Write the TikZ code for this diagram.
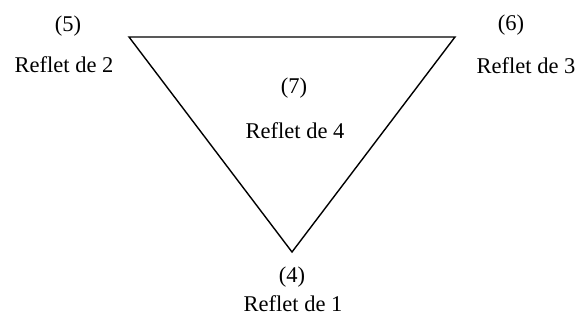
\documentclass[tikz,border=0pt]{standalone}
\usepackage{fontspec}
\setmainfont{Liberation Serif}
\begin{document}
\begin{tikzpicture}[x=1pt,y=-1pt,
  lbl/.style={inner sep=0pt,font=\fontsize{22.5}{27}\selectfont},
  edge/.style={line width=1.4pt,line join=miter}]
\useasboundingbox (0,0) rectangle (578,320);
\coordinate (tl) at (129,37);
\coordinate (tr) at (455,37);
\coordinate (bt) at (292,252);
\draw[edge] (tl) -- (tr) -- (bt) -- cycle;
\node[lbl] (n5) at (68,26) {(5)};
\node[lbl,anchor=base] (r2) at (64,73) {Reflet de 2};
\node[lbl] (n6) at (511,25) {(6)};
\node[lbl,anchor=base] (r3) at (526,74) {Reflet de 3};
\node[lbl] (n7) at (294,88) {(7)};
\node[lbl,anchor=base] (r4) at (295,139) {Reflet de 4};
\node[lbl] (n4) at (292,277) {(4)};
\node[lbl,anchor=base] (r1) at (293,312) {Reflet de 1};
\end{tikzpicture}
\end{document}
